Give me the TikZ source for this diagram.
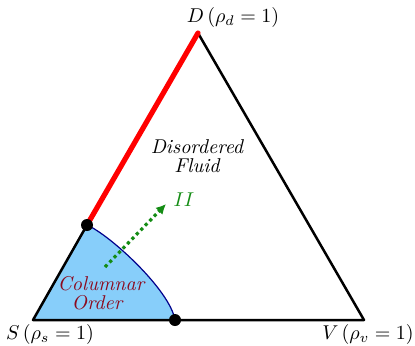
\documentclass[tikz,border=0pt]{standalone}
\usetikzlibrary{arrows.meta}
\definecolor{skyfill}{RGB}{135,206,250}
\definecolor{arcblue}{RGB}{0,0,140}
\definecolor{fluidgreen}{RGB}{20,140,20}
\definecolor{colred}{RGB}{140,10,30}
\tikzset{
  edge/.style={line width=1.25pt, line cap=round, line join=round},
  redge/.style={line width=2.6pt, red, line cap=round},
  dotnode/.style={circle, fill=black, inner sep=0pt, minimum size=6pt},
  lab/.style={inner sep=1pt},
  region/.style={inner sep=0pt, align=center, font={\fontsize{10pt}{9.3pt}\selectfont\itshape}},
}
\begin{document}
\begin{tikzpicture}[x=0.5pt,y=-0.5pt]
\useasboundingbox (0,0) rectangle (415,345);
\coordinate (S) at (33,320);
\coordinate (V) at (364,320);
\coordinate (D) at (198,33);
\coordinate (P) at (87,225);
\coordinate (Q) at (175,320);
\fill[skyfill] (S) -- (P) .. controls (110,235) and (170,290) .. (Q) -- cycle;
\draw[arcblue, line width=0.6pt] (P) .. controls (110,235) and (170,290) .. (Q);
\draw[edge] (P) -- (S) -- (V) -- (D);
\draw[redge] (P) -- (D);
\node[dotnode] (p) at (P) {};
\node[dotnode] (q) at (Q) {};
\coordinate (A0) at (105,267);
\coordinate (A1) at (166,204);
\draw[fluidgreen, line width=1.6pt, dash pattern=on 1.6pt off 1.6pt, -{Latex[length=5pt,width=5pt]}] (A0) -- (A1);
\node[lab] (dl) at (233,17) {$D\,(\rho_d = 1)$};
\node[lab] (sl) at (50,334) {$S\,(\rho_s = 1)$};
\node[lab] (vl) at (368,334) {$V\,(\rho_v = 1)$};
\node[region] (df) at (197,156) {Disordered\\Fluid};
\node[region, text=colred] (co1) at (101,284) {Columnar};
\node[region, text=colred] (co2) at (97,303) {Order};
\node[lab, text=fluidgreen] (ii) at (184,200) {$II$};
\end{tikzpicture}
\end{document}
